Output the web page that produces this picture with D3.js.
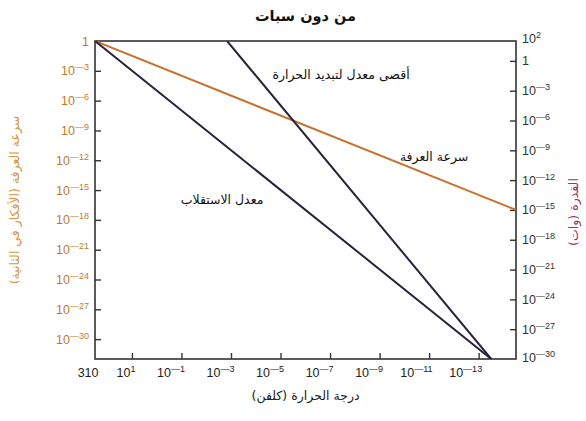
<!doctype html>
<html lang="ar">
<head>
<meta charset="utf-8">
<title>من دون سبات</title>
<script src="https://d3js.org/d3.v7.min.js"></script>
<style>
  body { margin: 0; background: #fff; }
  .ar { font-family: "DejaVu Sans", sans-serif; }
  .num { font-family: "Liberation Sans", Arial, sans-serif; }
  .axis path, .axis line { stroke: #333; }
</style>
</head>
<body>
<div id="chart"></div>
<script>
  // tick values
  const tempTicks = [310, 1e1, 1e-1, 1e-3, 1e-5, 1e-7, 1e-9, 1e-11, 1e-13];
  const speedTicks = [1, 1e-3, 1e-6, 1e-9, 1e-12, 1e-15, 1e-18, 1e-21, 1e-24, 1e-27, 1e-30];
  const powerTicks = [1e2, 1, 1e-3, 1e-6, 1e-9, 1e-12, 1e-15, 1e-18, 1e-21, 1e-24, 1e-27, 1e-30];

  // series (temperature in K, value)
  const speedTemps = [310, 3.1e-15];        // left axis
  const speedValues = [1, 1e-17];
  const metabolicTemps = [310, 3.1e-14];    // right axis
  const metabolicValues = [1e2, 1e-30];
  const coolingTemps = [1.44e-3, 3.1e-14];  // right axis
  const coolingValues = [1e2, 1e-30];

  // line labels (anchored in temperature / power space)
  const labelTexts = ['أقصى معدل لتبديد الحرارة', 'سرعة العرفة', 'معدل الاستقلاب'];
  const labelTemps = [3.6e-8, 6.3e-12, 2.3e-3];
  const labelPowers = [3.8e-2, 2.1e-10, 1e-14];

  const W = 586, H = 421;
  const margin = {top: 41, right: 70, bottom: 62, left: 95};

  const svg = d3.select('#chart').append('svg')
    .attr('width', W)
    .attr('height', H);

  const x = d3.scaleLog().domain([310, 3.1e-15]).range([margin.left, W - margin.right]);
  const yLeft = d3.scaleLog().domain([1, 1e-32]).range([margin.top, H - margin.bottom]);
  const yRight = d3.scaleLog().domain([1e2, 1e-30]).range([margin.top, H - margin.bottom]);

  function sup(sel, expSize) {
    sel.each(function (d) {
      const t = d3.select(this).text(null);
      const e = Math.round(Math.log10(d));
      if (d === 310 || e === 0) { t.text(d === 310 ? '310' : '1'); return; }
      t.append('tspan').text('10');
      t.append('tspan').attr('font-size', expSize).attr('dy', -5)
        .text(e < 0 ? '—' + (-e) : String(e));
    });
  }

  // frame
  svg.append('rect')
    .attr('x', margin.left).attr('y', margin.top)
    .attr('width', W - margin.right - margin.left)
    .attr('height', H - margin.bottom - margin.top)
    .attr('fill', 'none').attr('stroke', '#333').attr('stroke-width', 1.6);

  const gx = svg.append('g').attr('class', 'axis num')
    .attr('transform', `translate(0,${H - margin.bottom})`)
    .call(d3.axisBottom(x).tickValues(tempTicks).tickSize(-6).tickPadding(9));
  gx.select('.domain').remove();
  gx.selectAll('.tick line').attr('stroke-width', 1.4).filter(d => d === 310).remove();
  gx.selectAll('.tick text')
    .attr('font-size', 12.5).attr('fill', '#222')
    .attr('text-anchor', 'end').attr('dx', 3)
    .call(sup, 9);

  const gl = svg.append('g').attr('class', 'axis num')
    .attr('transform', `translate(${margin.left},0)`)
    .call(d3.axisLeft(yLeft).tickValues(speedTicks).tickSize(-6).tickPadding(6));
  gl.select('.domain').remove();
  gl.selectAll('.tick line').attr('stroke-width', 1.4).filter(d => d === 1).remove();
  gl.selectAll('.tick text')
    .attr('font-size', 12.5).attr('fill', '#c07a30')
    .call(sup, 9);

  const gr = svg.append('g').attr('class', 'axis num')
    .attr('transform', `translate(${W - margin.right},0)`)
    .call(d3.axisRight(yRight).tickValues(powerTicks).tickSize(-6).tickPadding(6));
  gr.select('.domain').remove();
  gr.selectAll('.tick line').attr('stroke-width', 1.4).filter(d => d === 1e2 || d === 1e-30).remove();
  gr.selectAll('.tick text')
    .attr('font-size', 12.5).attr('fill', '#333')
    .call(sup, 9);
  gr.selectAll('.tick').filter(d => d === 1e2).select('text').attr('dy', '0.1em');
  gr.selectAll('.tick').filter(d => d === 1e-30).select('text').attr('dy', '0.2em');

  // lines
  const plot = svg.append('g');
  plot.append('clipPath').attr('id', 'clip').append('rect')
    .attr('x', margin.left).attr('y', margin.top)
    .attr('width', W - margin.right - margin.left)
    .attr('height', H - margin.bottom - margin.top);
  const lines = plot.append('g').attr('clip-path', 'url(#clip)');

  const lineLeft = d3.line().x(d => x(d[0])).y(d => yLeft(d[1]));
  const lineRight = d3.line().x(d => x(d[0])).y(d => yRight(d[1]));

  lines.append('path')
    .attr('d', lineLeft(d3.zip(speedTemps, speedValues)))
    .attr('fill', 'none').attr('stroke', '#c8702c').attr('stroke-width', 2);
  lines.append('path')
    .attr('d', lineRight(d3.zip(metabolicTemps, metabolicValues)))
    .attr('fill', 'none').attr('stroke', '#2a2238').attr('stroke-width', 2);
  lines.append('path')
    .attr('d', lineRight(d3.zip(coolingTemps, coolingValues)))
    .attr('fill', 'none').attr('stroke', '#2a2238').attr('stroke-width', 2);

  svg.append('g').selectAll('text')
    .data(labelTexts)
    .join('text')
    .attr('class', 'ar')
    .attr('direction', 'rtl')
    .attr('x', (d, i) => x(labelTemps[i]))
    .attr('y', (d, i) => yRight(labelPowers[i]))
    .attr('dy', '0.35em')
    .attr('text-anchor', 'middle')
    .attr('font-size', 12.5)
    .attr('fill', '#111')
    .text(d => d);

  // titles
  svg.append('text').attr('class', 'ar').attr('direction', 'rtl')
    .attr('x', (margin.left + W - margin.right) / 2).attr('y', 21)
    .attr('text-anchor', 'middle').attr('font-size', 14.5).attr('font-weight', 'bold')
    .attr('fill', '#111').text('من دون سبات');

  svg.append('text').attr('class', 'ar').attr('direction', 'rtl')
    .attr('x', (margin.left + W - margin.right) / 2).attr('y', 400)
    .attr('text-anchor', 'middle').attr('font-size', 12.5)
    .attr('fill', '#222').text('درجة الحرارة (كلفن)');

  svg.append('text').attr('class', 'ar').attr('direction', 'rtl')
    .attr('transform', `translate(19,${(margin.top + H - margin.bottom) / 2}) rotate(-90)`)
    .attr('text-anchor', 'middle').attr('font-size', 12.5)
    .attr('fill', '#d9953a').text('سرعة العرفة (الأفكار في الثانية)');

  svg.append('text').attr('class', 'ar').attr('direction', 'rtl')
    .attr('transform', `translate(578,212) rotate(-90)`)
    .attr('text-anchor', 'middle').attr('font-size', 12.5)
    .attr('fill', '#9a3468').text('القدرة (وات)');
</script>
</body>
</html>
